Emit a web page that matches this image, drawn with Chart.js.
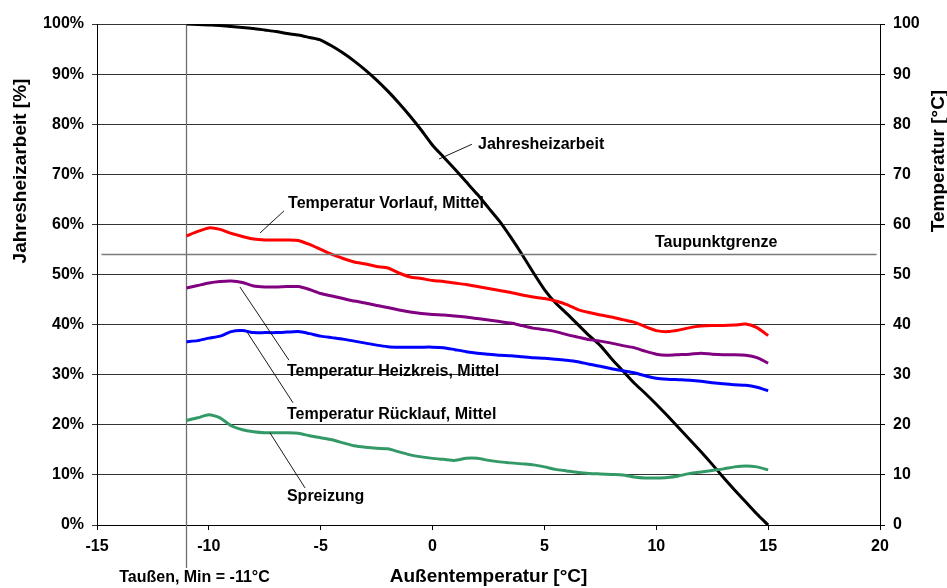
<!DOCTYPE html>
<html>
<head>
<meta charset="utf-8">
<script src="https://cdn.jsdelivr.net/npm/chart.js@4.4.1/dist/chart.umd.min.js"></script>
<style>
  html, body { margin: 0; padding: 0; background: #ffffff; }
  #wrap { width: 947px; height: 588px; }
</style>
</head>
<body>
<div id="wrap"><canvas id="c" width="947" height="588"></canvas></div>
<script>
// Außentemperatur [°C]
const outdoorTemp = [-11, -10.5, -10, -9.5, -9, -8.5, -8, -7.5, -7, -6.5, -6, -5.5, -5, -4.5, -4, -3.5, -3, -2.5, -2, -1.5,
  -1, -0.5, 0, 0.5, 1, 1.5, 2, 2.5, 3, 3.5, 4, 4.5, 5, 5.5, 6, 6.5, 7, 7.5, 8, 8.5,
  9, 9.5, 10, 10.5, 11, 11.5, 12, 12.5, 13, 13.5, 14, 14.5, 15];

// Jahresheizarbeit [%] (linke Achse)
const annualHeatShare = [100, 99.9, 99.8, 99.7, 99.5, 99.3, 99.1, 98.8, 98.5, 98.1, 97.8, 97.3, 96.8, 95.6, 94.2, 92.6, 90.8, 88.8, 86.6, 84.2,
  81.6, 78.8, 75.8, 73.4, 71.0, 68.5, 66.0, 63.3, 60.6, 57.4, 54.0, 50.4, 47.0, 44.3, 42.2, 40.0, 37.8, 35.8, 33.2, 30.8,
  28.4, 26.3, 24.1, 21.8, 19.4, 17.0, 14.6, 12.1, 9.5, 7.0, 4.6, 2.2, 0];

// Temperatur Vorlauf, Mittel [°C]
const supplyTemp = [57.7, 58.6, 59.3, 59.0, 58.2, 57.6, 57.1, 56.9, 56.9, 56.9, 56.8, 56.0, 55.0, 54.0, 53.2, 52.5, 52.1, 51.6, 51.3, 50.3,
  49.5, 49.2, 48.8, 48.6, 48.3, 48.0, 47.6, 47.2, 46.8, 46.4, 45.9, 45.5, 45.2, 44.7, 44.0, 43.0, 42.4, 41.9, 41.5, 41.0,
  40.5, 39.6, 38.8, 38.6, 38.9, 39.4, 39.7, 39.8, 39.8, 39.9, 40.1, 39.4, 37.8];

// Temperatur Heizkreis, Mittel [°C]
const circuitTemp = [47.3, 47.8, 48.3, 48.6, 48.7, 48.4, 47.7, 47.5, 47.5, 47.6, 47.6, 47.0, 46.2, 45.7, 45.2, 44.7, 44.3, 43.8, 43.4, 42.9,
  42.5, 42.2, 42.0, 41.9, 41.7, 41.5, 41.2, 40.9, 40.6, 40.3, 39.8, 39.3, 39.0, 38.6, 38.0, 37.5, 37.0, 36.7, 36.3, 35.8,
  35.4, 34.7, 34.1, 33.9, 34.0, 34.1, 34.3, 34.1, 34.0, 34.0, 33.9, 33.4, 32.3];

// Temperatur Rücklauf, Mittel [°C]
const returnTemp = [36.6, 36.8, 37.3, 37.7, 38.6, 38.8, 38.4, 38.4, 38.4, 38.5, 38.6, 38.2, 37.7, 37.4, 37.1, 36.7, 36.3, 35.9, 35.6, 35.5,
  35.5, 35.5, 35.5, 35.4, 35.0, 34.6, 34.3, 34.1, 33.9, 33.8, 33.6, 33.4, 33.3, 33.1, 32.9, 32.6, 32.1, 31.7, 31.2, 30.8,
  30.4, 29.8, 29.3, 29.1, 29.0, 28.9, 28.7, 28.4, 28.2, 28.0, 27.9, 27.5, 26.8];

// Spreizung [K]
const spreadTemp = [20.9, 21.4, 22.0, 21.4, 19.8, 19.0, 18.6, 18.4, 18.4, 18.4, 18.3, 17.8, 17.4, 17.0, 16.4, 15.8, 15.5, 15.3, 15.2, 14.6,
  14.0, 13.6, 13.3, 13.1, 12.9, 13.3, 13.3, 12.9, 12.6, 12.4, 12.2, 12.0, 11.6, 11.1, 10.8, 10.5, 10.3, 10.2, 10.1, 10.0,
  9.6, 9.4, 9.4, 9.5, 9.8, 10.3, 10.6, 10.9, 11.2, 11.6, 11.8, 11.6, 11.0];

// Taupunktgrenze [°C] and minimum outdoor temperature [°C]
const dewPointLimit = 54;
const minOutdoorTemp = -11;

// Axis tick values
const xTickValues = [-15, -10, -5, 0, 5, 10, 15, 20];
const leftTickValues = [0, 10, 20, 30, 40, 50, 60, 70, 80, 90, 100];
const rightTickValues = [0, 10, 20, 30, 40, 50, 60, 70, 80, 90, 100];

const FONT = "'Liberation Sans', Arial, Helvetica, sans-serif";

function pts(ys) {
  return outdoorTemp.map((x, i) => ({ x: x, y: ys[i] }));
}

// Callout labels: text position and leader line, in axis units (right axis for temperatures)
const callouts = [
  { text: 'Jahresheizarbeit', axis: 'yL', at: [2.03, 76.0], from: [1.76, 76.0], to: [0.29, 73.05] },
  { text: 'Temperatur Vorlauf, Mittel', axis: 'yR', at: [-6.46, 64.1], from: [-6.64, 62.7], to: [-7.71, 58.3] },
  { text: 'Taupunktgrenze', axis: 'yR', at: [9.94, 56.3] },
  { text: 'Temperatur Heizkreis, Mittel', axis: 'yR', at: [-6.51, 30.7], from: [-6.42, 32.9], to: [-8.61, 47.5] },
  { text: 'Temperatur Rücklauf, Mittel', axis: 'yR', at: [-6.51, 22.0], from: [-6.24, 24.4], to: [-8.29, 38.5] },
  { text: 'Spreizung', axis: 'yR', at: [-6.51, 5.6], from: [-5.70, 7.4], to: [-7.27, 18.4] }
];

const overlay = {
  id: 'overlay',
  beforeDatasetsDraw(chart) {
    const ctx = chart.ctx;
    const xs = chart.scales.x;
    const px = Math.round(xs.getPixelForValue(minOutdoorTemp)) + 0.5;
    ctx.save();
    ctx.strokeStyle = '#6e6e6e';
    ctx.lineWidth = 1.3;
    ctx.beginPath();
    ctx.moveTo(px, chart.chartArea.top);
    ctx.lineTo(px, 568);
    ctx.stroke();
    ctx.restore();
  },
  afterDatasetsDraw(chart) {
    const ctx = chart.ctx;
    const xs = chart.scales.x;
    ctx.save();
    ctx.fillStyle = '#000';
    ctx.font = 'bold 16px ' + FONT;
    ctx.textBaseline = 'middle';
    ctx.textAlign = 'left';
    callouts.forEach(c => {
      const ys = chart.scales[c.axis];
      if (c.from) {
        ctx.strokeStyle = '#000';
        ctx.lineWidth = 0.9;
        ctx.beginPath();
        ctx.moveTo(xs.getPixelForValue(c.from[0]), ys.getPixelForValue(c.from[1]));
        ctx.lineTo(xs.getPixelForValue(c.to[0]), ys.getPixelForValue(c.to[1]));
        ctx.stroke();
      }
      ctx.fillText(c.text, xs.getPixelForValue(c.at[0]), ys.getPixelForValue(c.at[1]));
    });

    // label under the minimum temperature marker
    ctx.textAlign = 'center';
    ctx.fillText('Taußen, Min = -11°C', xs.getPixelForValue(minOutdoorTemp) + 8, 578);

    // vertical axis titles
    ctx.font = 'bold 19px ' + FONT;
    ctx.save();
    ctx.translate(21, 171);
    ctx.rotate(-Math.PI / 2);
    ctx.fillText('Jahresheizarbeit [%]', 0, 0);
    ctx.restore();
    ctx.save();
    ctx.translate(939, 161);
    ctx.rotate(-Math.PI / 2);
    ctx.fillText('Temperatur [°C]', 0, 0);
    ctx.restore();
    ctx.restore();
  }
};

const lineDs = (label, data, color, axis) => ({
  label: label,
  data: pts(data),
  yAxisID: axis,
  borderColor: color,
  backgroundColor: color,
  borderWidth: 3,
  pointRadius: 0,
  tension: 0.2,
  fill: false
});

new Chart(document.getElementById('c'), {
  type: 'line',
  data: {
    datasets: [
      {
        label: 'Taupunktgrenze',
        data: [{ x: -14.8, y: dewPointLimit }, { x: 19.85, y: dewPointLimit }],
        yAxisID: 'yR',
        borderColor: '#7a7a7a',
        borderWidth: 1.5,
        pointRadius: 0,
        fill: false
      },
      lineDs('Temperatur Vorlauf, Mittel', supplyTemp, '#ff0000', 'yR'),
      lineDs('Temperatur Heizkreis, Mittel', circuitTemp, '#800080', 'yR'),
      lineDs('Temperatur Rücklauf, Mittel', returnTemp, '#0000ff', 'yR'),
      lineDs('Spreizung', spreadTemp, '#339966', 'yR'),
      lineDs('Jahresheizarbeit', annualHeatShare, '#000000', 'yL')
    ]
  },
  options: {
    responsive: false,
    animation: false,
    events: [],
    layout: { padding: { top: 24, left: 0, right: 0, bottom: 0 } },
    plugins: {
      legend: { display: false },
      tooltip: { enabled: false }
    },
    scales: {
      x: {
        type: 'linear',
        position: 'bottom',
        min: -15,
        max: 20,
        afterBuildTicks: s => { s.ticks = xTickValues.map(v => ({ value: v })); },
        afterFit: s => { s.height = 63; },
        grid: { drawOnChartArea: false, drawTicks: true, tickLength: 5, color: '#000' },
        border: { color: '#000', width: 1 },
        ticks: {
          padding: 7,
          color: '#000',
          font: { family: FONT, size: 16, weight: 'bold' },
          maxRotation: 0
        },
        title: {
          display: true,
          text: 'Außentemperatur [°C]',
          color: '#000',
          font: { family: FONT, size: 19, weight: 'bold' },
          padding: { top: 0, bottom: 0 }
        }
      },
      yL: {
        type: 'linear',
        position: 'left',
        min: 0,
        max: 100,
        afterBuildTicks: s => { s.ticks = leftTickValues.map(v => ({ value: v })); },
        afterFit: s => { s.width = 97; },
        grid: { color: '#333', lineWidth: 1, tickLength: 5 },
        border: { color: '#000', width: 1 },
        ticks: {
          padding: 8,
          color: '#000',
          font: { family: FONT, size: 16, weight: 'bold' },
          callback: v => v + '%'
        }
      },
      yR: {
        type: 'linear',
        position: 'right',
        min: 0,
        max: 100,
        afterBuildTicks: s => { s.ticks = rightTickValues.map(v => ({ value: v })); },
        afterFit: s => { s.width = 67; },
        grid: { drawOnChartArea: false, tickLength: 5, color: '#000' },
        border: { color: '#000', width: 1 },
        ticks: {
          padding: 8,
          color: '#000',
          font: { family: FONT, size: 16, weight: 'bold' }
        }
      }
    }
  },
  plugins: [overlay]
});
</script>
</body>
</html>
